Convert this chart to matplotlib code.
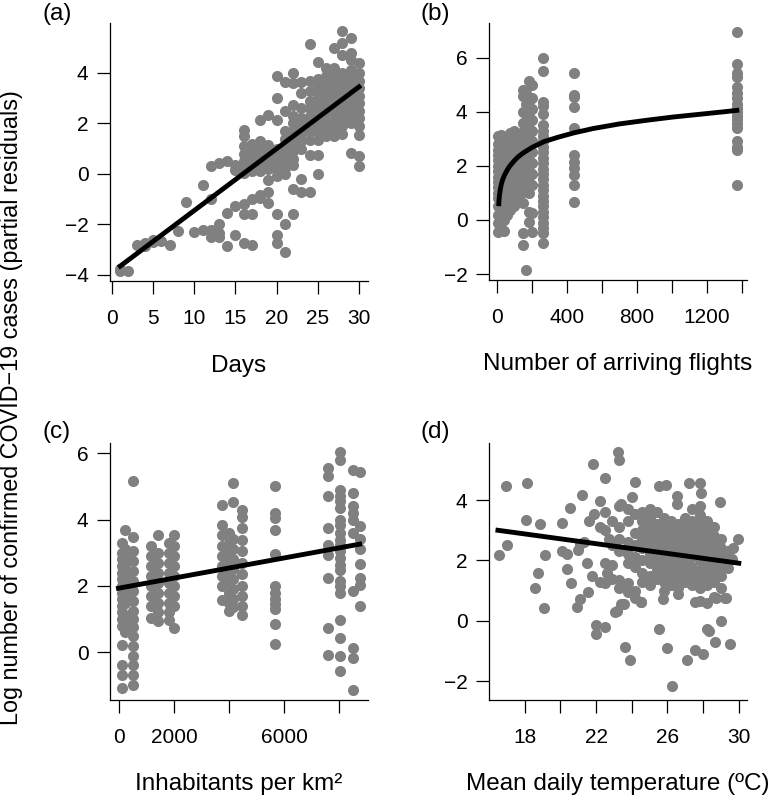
import matplotlib
matplotlib.use("Agg")
import matplotlib.pyplot as plt
import numpy as np

plt.rcParams['font.family'] = ['Liberation Sans', 'DejaVu Sans']

# ---- panel (a): days ----
days_cols = [
    (1, [-3.85, -3.75]), (2, [-3.85]), (3, [-2.8]), (4, [-2.85, -2.75]),
    (5, [-2.7, -2.6]), (6, [-2.65]), (7, [-2.8]), (8, [-2.25]), (9, [-1.1]),
    (10, [-2.3]), (11, [-0.45, -2.2]), (12, [0.3, -1.0, -2.2, -2.5]),
    (13, [0.45, -2.0, -2.35, -2.5]), (14, [0.5, -1.55, -2.85]),
    (15, [0.35, -1.25, -2.4, 0.15]),
    (16, [1.75, 1.5, 1.1, 0.8, 0.5, 0.3, 0.05, -1.2, -2.75, -1.6]),
    (17, [1.2, 0.9, 0.7, 0.5, 0.3, 0.1, -1.0, -1.6, -2.8]),
    (18, [2.15, 1.3, 1.0, 0.75, 0.5, 0.3, 0.1, -0.95, -0.85]),
    (19, [2.35, 1.15, 0.9, 0.65, 0.4, 0.2, -0.25, -0.7, -1.15]),
    (20, [3.9, 3.0, 2.15, 1.0, 0.75, 0.5, 0.3, 0.1, -0.1, -1.6, -2.4, -2.75]),
    (21, [3.65, 2.5, 1.7, 1.4, 1.15, 0.9, 0.7, 0.45, 0.25, 0.0, -2.0, -3.1]),
    (22, [4.0, 3.6, 2.75, 2.3, 2.0, 1.7, 1.4, 1.15, 0.9, 0.6, 0.35, -0.6, -1.6]),
    (23, [3.65, 3.2, 2.6, 2.2, 1.9, 1.6, 1.3, 1.0, -0.2, -0.7]),
    (24, [5.15, 3.7, 3.3, 2.9, 2.6, 2.3, 2.0, 1.7, 1.35, 0.75, -0.7]),
    (25, [4.45, 3.75, 3.45, 3.15, 2.85, 2.55, 2.25, 1.95, 1.65, 1.35, 0.75, 0.0]),
    (26, [4.2, 3.9, 3.6, 3.3, 3.0, 2.7, 2.4, 2.1, 1.8, 1.5]),
    (27, [5.0, 4.2, 3.9, 3.6, 3.3, 3.0, 2.7, 2.4, 2.1, 1.8, 1.5]),
    (28, [5.65, 5.2, 4.7, 4.0, 3.7, 3.4, 3.1, 2.8, 2.5, 2.2, 1.9, 1.6]),
    (29, [5.4, 4.8, 4.5, 4.1, 3.8, 3.5, 3.2, 2.9, 2.6, 2.3, 2.0, 0.85]),
    (30, [4.4, 4.0, 3.7, 3.4, 3.1, 2.8, 2.5, 2.2, 1.9, 1.55, 0.7, 0.3]),
]
days_fit_x = [1, 30]
days_fit_y = [-3.65, 3.45]

# ---- panel (b): arriving flights ----
flights_cols = [
    (5, [-0.45, -0.1, 0.2, 0.5, 0.8, 1.0, 1.2, 1.4, 1.6, 1.8, 2.0, 2.2, 2.4, 2.6, 2.8, 3.1]),
    (20, [-0.3, 0.1, 0.4, 0.7, 0.9, 1.1, 1.3, 1.5, 1.7, 1.9, 2.1, 2.3, 2.5, 2.7, 2.9, 3.15]),
    (38, [-0.4, 0.0, 0.3, 0.6, 1.0, 1.3, 1.6, 1.9, 2.2, 2.45, 2.7, 2.95]),
    (55, [0.2, 0.6, 0.9, 1.2, 1.5, 1.8, 2.1, 2.4, 2.7, 3.0]),
    (75, [0.37, 0.8, 1.2, 1.6, 1.9, 2.2, 2.5, 2.8, 3.2]),
    (95, [0.5, 1.0, 1.4, 1.8, 2.1, 2.4, 2.7, 3.0, 3.3]),
    (115, [0.7, 1.2, 1.6, 2.0, 2.3, 2.6, 2.9]),
    (135, [1.0, 1.5, 1.9, 2.3, 2.6, 2.9, 3.2]),
    (150, [-0.92, -0.5, 0.62, 1.05, 1.4, 1.8, 2.2, 2.6, 3.0, 3.58, 4.0, 4.6, 4.8]),
    (165, [-1.85, 1.2, 1.6, 2.0, 2.4, 2.8, 3.2, 3.6, 3.9, 4.3, 4.7]),
    (180, [-0.06, 0.31, 1.0, 1.42, 1.8, 2.2, 2.6, 3.0, 3.4, 3.8, 4.07, 4.4, 5.12]),
    (198, [-0.43, 0.25, 1.3, 1.7, 2.1, 2.5, 2.9, 3.3, 3.7, 4.1, 4.5, 5.0]),
    (265, [6.0, 5.5, 4.35, 4.2, 3.9, 3.5, 3.3, 3.1, 2.9, 2.7, 2.5, 2.3, 2.1, 1.9,
           1.7, 1.5, 1.3, 1.1, 0.9, 0.7, 0.5, 0.3, 0.1, -0.1, -0.3, -0.5, -0.85]),
    (442, [5.44, 4.62, 4.55, 4.18, 3.4, 2.4, 2.15, 1.92, 1.66, 1.3, 0.67]),
    (1371, [6.95, 5.75, 5.45, 5.3, 4.9, 4.7, 4.5, 4.3, 4.15, 4.0, 3.85, 3.7,
            3.55, 3.4, 2.9, 2.7, 2.6, 1.3]),
]
flights_fit_x = [10, 11, 12, 14, 17, 20, 25, 30, 40, 50, 65, 80, 100, 120, 150,
                 200, 270, 350, 440, 550, 700, 850, 1000, 1150, 1300, 1371]
flights_fit_y = [0.6, 0.7, 0.8, 0.92, 1.07, 1.18, 1.33, 1.45, 1.62, 1.75, 1.92,
                 2.05, 2.2, 2.33, 2.48, 2.68, 2.9, 3.06, 3.22, 3.38, 3.55, 3.68,
                 3.8, 3.9, 4.0, 4.05]

# ---- panel (c): inhabitants per km2 ----
density_cols = [
    (100, [3.3, 3.0, 2.8, 2.6, 2.4, 2.2, 2.0, 1.8, 1.6, 1.4, 1.2, 1.0, 0.8, 0.22,
           -0.38, -0.68, -1.08]),
    (220, [3.69, 3.1, 2.9, 2.7, 2.5, 2.3, 2.1, 1.9, 1.7, 1.5, 1.1, 0.9, 0.6]),
    (510, [5.15, 3.49, 3.05, 2.75, 2.45, 2.15, 1.85, 1.55, 1.25, 1.0, 0.75, 0.5,
           0.2, -0.1, -0.38, -0.7, -0.98]),
    (1150, [3.19, 2.9, 2.6, 2.3, 2.0, 1.7, 1.4, 1.02]),
    (1400, [3.54, 3.0, 2.7, 2.4, 2.1, 1.8, 1.5, 1.2, 0.93]),
    (1800, [3.3, 3.0, 2.7, 2.4, 2.1, 1.8, 1.5, 1.2, 0.97]),
    (2000, [3.54, 3.2, 2.9, 2.6, 2.3, 2.0, 1.7, 1.4, 0.72]),
    (3750, [4.44, 3.84, 3.54, 3.2, 2.9, 2.6, 2.3, 2.0, 1.58]),
    (4000, [3.6, 3.3, 3.0, 2.7, 2.4, 2.1, 1.8, 1.5, 1.23]),
    (4150, [5.1, 4.54, 3.4, 3.1, 2.8, 2.5, 2.2, 1.9, 1.6, 1.35]),
    (4450, [4.29, 4.09, 3.74, 3.39, 3.05, 2.7, 2.35, 2.0, 1.7, 1.4, 1.13]),
    (5660, [5.0, 4.2, 4.05, 3.7, 2.95, 2.0, 1.8, 1.6, 1.45, 1.3, 0.85, 0.25]),
    (7580, [5.55, 5.3, 4.7, 3.74, 3.24, 2.94, 2.24, 0.73, -0.07]),
    (8025, [6.05, 5.8, 4.9, 4.7, 4.55, 4.34, 3.99, 3.84, 3.59, 3.39, 3.24, 3.04,
            2.84, 2.64, 2.49, 2.14, 1.99, 1.79, 0.98, 0.43, -0.12, -0.57]),
    (8500, [5.5, 4.8, 4.4, 4.2, 4.0, 3.6, 1.84, 0.13, -0.17, -1.13]),
    (8750, [5.45, 3.8, 3.4, 3.1, 2.65, 2.24, 2.04, 1.4]),
]
density_fit_x = [-30, 8750]
density_fit_y = [1.93, 3.26]

# ---- panel (d): mean daily temperature ----
temp_cols = [
    (22.9, [3.3, 2.5, 1.85]),
    (23.3, [3.8, 3.1, 2.7, 2.3, 1.35, 1.1]),
    (23.8, [3.7, 3.3, 2.6, 2.2, 1.9, 1.25, 0.95]),
    (24.2, [3.55, 2.9, 2.5, 2.1, 1.8, 1.0, 0.75]),
    (24.6, [3.6, 3.3, 3.0, 2.7, 2.4, 2.0, 1.6, 1.3]),
    (25.0, [3.7, 3.4, 3.1, 2.8, 2.5, 2.2, 1.9, 1.5, 1.2]),
    (25.4, [3.6, 3.2, 2.9, 2.6, 2.3, 2.0, 1.7, 1.4]),
    (25.8, [3.4, 3.1, 2.8, 2.5, 2.2, 1.9, 1.6, 1.3, 1.0]),
    (26.2, [3.3, 3.0, 2.7, 2.4, 2.1, 1.8, 1.5, 1.2]),
    (26.6, [3.2, 2.9, 2.6, 2.3, 2.0, 1.7, 1.4, 1.1, 0.9]),
    (27.0, [3.4, 3.1, 2.8, 2.5, 2.2, 1.9, 1.6, 1.3]),
    (27.4, [3.7, 3.3, 3.0, 2.7, 2.4, 2.1, 1.8, 1.5, 1.2]),
    (27.8, [3.8, 3.5, 3.2, 2.9, 2.6, 2.3, 2.0, 1.7, 1.4, 1.1, 0.65]),
    (28.2, [3.3, 3.0, 2.7, 2.4, 2.1, 1.8, 1.5, 1.2, 0.6]),
    (28.6, [3.1, 2.8, 2.5, 2.2, 1.9, 1.6, 1.3, 0.8]),
    (29.0, [2.7, 2.4, 2.1, 1.8, 1.5, 1.1]),
    (29.4, [2.3, 2.0, 1.75]),
]
temp_x_extra = [16.54, 17.0, 16.95, 18.13, 18.1, 18.86, 19.14, 18.76, 18.6, 19.1,
                20.11, 20.54, 21.2, 20.11, 20.35, 20.35, 20.6, 21.0, 21.3, 21.1,
                21.57, 20.96, 21.85, 22.2, 22.5, 23.25, 23.3, 21.6, 21.9, 22.2,
                22.5, 22.5, 21.5, 21.8, 22.2, 22.5, 22.5, 22.0, 22.0, 22.5, 23.2,
                23.55, 23.64, 23.92, 24.02, 24.2, 24.5, 25.55, 25.76, 25.96, 25.5,
                25.9, 26.28, 26.52, 26.52, 27.2, 27.1, 27.55, 27.85, 27.9, 28.0,
                28.2, 28.35, 28.67, 28.95, 29.0, 29.2, 29.5, 29.98, 29.3, 28.75,
                27.55, 24.5, 23.4, 23.06, 23.4, 22.9, 21.1, 29.7, 29.6, 22.7, 22.6]
temp_y_extra = [2.18, 2.51, 4.47, 4.55, 3.35, 3.22, 2.17, 1.57, 1.1, 0.41,
                3.23, 3.74, 4.16, 2.32, 2.2, 1.72, 1.24, 2.35, 2.62, 0.72,
                0.94, 0.46, 5.21, 3.98, 4.74, 5.6, 5.33, 3.3, 3.55, 3.1,
                3.6, 3.0, 1.91, 1.5, 1.3, 1.91, 1.26, -0.15, -0.42, -0.2, 0.33,
                0.56, -0.86, -1.29, 4.09, 4.6, 0.62, -0.26, 0.72, -0.91, 4.45,
                4.5, -2.17, 4.14, 3.87, 4.55, -1.3, -0.97, 4.56, 4.25, -1.1,
                -0.26, -0.32, -0.7, 3.93, 0.01, 0.77, -0.77, 2.7, 0.77, 0.77,
                0.61, 0.61, 0.55, 0.28, 3.87, 1.4, 2.55, 2.4, 2.05, 2.7, 1.6]
temp_fit_x = [16.5, 30.0]
temp_fit_y = [3.0, 1.91]


def flatten(cols):
    xs, ys = [], []
    for x, vals in cols:
        xs += [x] * len(vals)
        ys += vals
    return np.array(xs, float), np.array(ys, float)


pt_col = '#808080'
tick_fs = 15
lab_fs = 17.5

fig = plt.figure(figsize=(7.74, 8.0), dpi=100)
W, H = 774., 800.
boxes = [(110, 23, 258, 258), (489, 23, 258, 257),
         (110, 443, 258, 257), (489, 443, 258, 257)]
axs = [fig.add_axes([l / W, 1 - (t + h) / H, w / W, h / H]) for l, t, w, h in boxes]

ax_a, ax_b, ax_c, ax_d = axs

xa, ya = flatten(days_cols)
ax_a.scatter(xa, ya, s=64, color=pt_col, linewidths=0, zorder=2)
ax_a.plot(days_fit_x, days_fit_y, color='black', lw=3.5, zorder=3)
ax_a.set_xlim(-0.24, 31.1)
ax_a.set_ylim(-4.24, 5.98)
ax_a.set_xticks(np.arange(0, 31, 5))
ax_a.set_yticks([-4, -2, 0, 2, 4])
ax_a.set_xlabel('Days')

xb, yb = flatten(flights_cols)
ax_b.scatter(xb, yb, s=64, color=pt_col, linewidths=0, zorder=2)
ax_b.plot(flights_fit_x, flights_fit_y, color='black', lw=3.5, zorder=3)
ax_b.set_xlim(-46, 1429)
ax_b.set_ylim(-2.22, 7.28)
ax_b.set_xticks(np.arange(0, 1401, 200))
ax_b.set_xticklabels(['0', '', '400', '', '800', '', '1200', ''])
ax_b.set_yticks([-2, 0, 2, 4, 6])
ax_b.set_xlabel('Number of arriving flights')

xc, yc = flatten(density_cols)
ax_c.scatter(xc, yc, s=64, color=pt_col, linewidths=0, zorder=2)
ax_c.plot(density_fit_x, density_fit_y, color='black', lw=3.5, zorder=3)
ax_c.set_xlim(-338, 9054)
ax_c.set_ylim(-1.44, 6.31)
ax_c.set_xticks([0, 2000, 4000, 6000, 8000])
ax_c.set_xticklabels(['0', '2000', '', '6000', ''])
ax_c.set_yticks([0, 2, 4, 6])
ax_c.set_xlabel('Inhabitants per km²')

xd, yd = flatten(temp_cols)
xd = np.concatenate([xd, temp_x_extra])
yd = np.concatenate([yd, temp_y_extra])
ax_d.scatter(xd, yd, s=64, color=pt_col, linewidths=0, zorder=2)
ax_d.plot(temp_fit_x, temp_fit_y, color='black', lw=3.5, zorder=3)
ax_d.set_xlim(16.0, 30.46)
ax_d.set_ylim(-2.62, 5.89)
ax_d.set_xticks(np.arange(18, 31, 2))
ax_d.set_xticklabels(['18', '', '22', '', '26', '', '30'])
ax_d.set_yticks([-2, 0, 2, 4])
ax_d.set_xlabel('Mean daily temperature (ºC)')

for ax in axs:
    ax.spines['top'].set_visible(False)
    ax.spines['right'].set_visible(False)
    for sp in ('left', 'bottom'):
        ax.spines[sp].set_linewidth(0.9)
    ax.tick_params(axis='x', length=9.5, width=0.9, pad=11, labelsize=tick_fs)
    ax.tick_params(axis='y', length=9.5, width=0.9, pad=6, labelsize=tick_fs)
    ax.xaxis.label.set_fontsize(lab_fs)
    ax.xaxis.set_label_coords(0.5, -0.285)

for lbl, (px, py) in zip(['(a)', '(b)', '(c)', '(d)'],
                         [(57, 14), (435, 14), (57, 432), (435, 432)]):
    fig.text(px / W, 1 - py / H, lbl, ha='center', va='center', fontsize=lab_fs)

fig.text(12 / W, 0.49, 'Log number of confirmed COVID\u221219 cases (partial residuals)',
         rotation=90, ha='center', va='center', fontsize=16.8)

fig.savefig('out.png', dpi=100)
